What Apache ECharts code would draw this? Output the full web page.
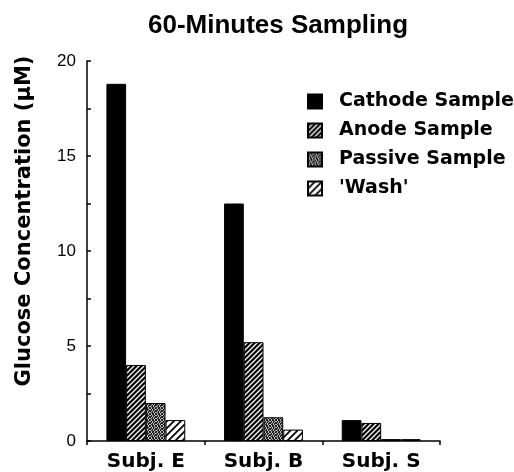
<!DOCTYPE html>
<html>
<head>
<meta charset="utf-8">
<script src="https://cdn.jsdelivr.net/npm/echarts@6/dist/echarts.min.js"></script>
<style>
html,body{margin:0;padding:0;background:#fff;}
#chart{width:514px;height:472px;}
</style>
</head>
<body>
<div id="chart"></div>
<script>
// ---- data ----
var categories = ['Subj. E', 'Subj. B', 'Subj. S'];
var seriesNames = ['Cathode Sample', 'Anode Sample', 'Passive Sample', "'Wash'"];
var cathodeValues = [18.8, 12.5, 1.1];
var anodeValues = [4.0, 5.2, 0.95];
var passiveValues = [2.0, 1.25, 0.1];
var washValues = [1.1, 0.6, 0.1];
var yTicks = [0, 5, 10, 15, 20];

// ---- patterns ----
function stripes(size, bg, fg, lw) {
  var c = document.createElement('canvas');
  c.width = size; c.height = size;
  var g = c.getContext('2d');
  g.fillStyle = bg; g.fillRect(0, 0, size, size);
  g.strokeStyle = fg; g.lineWidth = lw;
  g.beginPath();
  g.moveTo(-1, size + 1); g.lineTo(size + 1, -1);
  g.moveTo(-1, 1); g.lineTo(1, -1);
  g.moveTo(size - 1, size + 1); g.lineTo(size + 1, size - 1);
  g.stroke();
  return {image: c, repeat: 'repeat'};
}
function stipple() {
  var map = [
    'x.xx.x',
    '.x.xx.',
    'xx.x.x',
    'x.x.xx',
    '.xx.x.',
    'x.xx.x'
  ];
  var c = document.createElement('canvas');
  c.width = 6; c.height = 6;
  var g = c.getContext('2d');
  g.fillStyle = '#bbb'; g.fillRect(0, 0, 6, 6);
  g.fillStyle = '#222';
  for (var r = 0; r < 6; r++) for (var k = 0; k < 6; k++) if (map[r][k] === 'x') g.fillRect(k, r, 1, 1);
  return {image: c, repeat: 'repeat'};
}

var fills = ['#000', stripes(5, '#000', '#fff', 1.3), stipple(), stripes(7, '#fff', '#000', 1.8)];
var dataSets = [cathodeValues, anodeValues, passiveValues, washValues];

var series = seriesNames.map(function (name, i) {
  return {
    name: name,
    type: 'bar',
    data: dataSets[i],
    barGap: 0,
    barCategoryGap: '33%',
    itemStyle: {color: fills[i], borderColor: '#000', borderWidth: 1},
    emphasis: {disabled: true}
  };
});

var chart = echarts.init(document.getElementById('chart'), null, {renderer: 'canvas'});
chart.setOption({
  animation: false,
  backgroundColor: '#fff',
  title: {
    text: '60-Minutes Sampling',
    left: 273, top: 8, textAlign: 'center',
    textStyle: {fontFamily: 'Liberation Sans', fontWeight: 'bold', fontSize: 26, color: '#000'}
  },
  legend: {
    orient: 'vertical',
    left: 302, top: 87,
    icon: 'rect',
    itemWidth: 14, itemHeight: 14,
    itemGap: 10,
    data: seriesNames,
    textStyle: {fontFamily: 'DejaVu Sans', fontWeight: 'bold', fontSize: 19, color: '#000', padding: [0, 0, 0, 12]}
  },
  grid: {left: 87, right: 74, top: 61, bottom: 29, containLabel: false},
  xAxis: {
    type: 'category',
    data: categories,
    axisLine: {lineStyle: {color: '#000', width: 1.5}},
    axisTick: {show: true, alignWithLabel: false, length: 4, lineStyle: {color: '#000', width: 1.5}},
    axisLabel: {margin: 11, color: '#000', fontFamily: 'DejaVu Sans', fontWeight: 'bold', fontSize: 20}
  },
  yAxis: {
    type: 'value',
    min: yTicks[0], max: yTicks[yTicks.length - 1], interval: 5,
    name: 'Glucose Concentration (μM)',
    nameLocation: 'middle',
    nameGap: 52,
    nameTextStyle: {fontFamily: 'DejaVu Sans', fontWeight: 'bold', fontSize: 21, color: '#000', padding: [0, 0, 0, 60]},
    axisLine: {show: true, lineStyle: {color: '#000', width: 1.5}},
    axisTick: {show: true, inside: true, length: 4, lineStyle: {color: '#000', width: 1.5}},
    minorTick: {show: true, splitNumber: 2, length: 4, lineStyle: {color: '#000', width: 1.5}},
    splitLine: {show: false},
    axisLabel: {margin: 11, color: '#000', fontFamily: 'Liberation Sans', fontSize: 17}
  },
  series: series
});
</script>
</body>
</html>
